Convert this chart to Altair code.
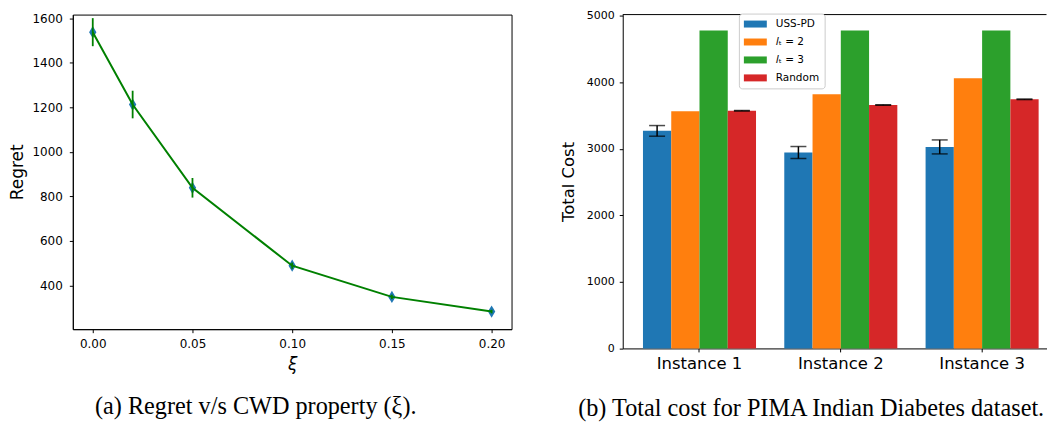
import altair as alt
import pandas as pd

# ---------------- data: left panel (Regret vs xi) ----------------
xi_values = [0.00, 0.02, 0.05, 0.10, 0.15, 0.20]
regret_mean = [1537, 1212, 838, 488, 348, 282]
regret_err = [63, 62, 44, 14, 10, 8]

# ---------------- data: right panel (Total cost) ----------------
instances = ["Instance 1", "Instance 2", "Instance 3"]
methods = ["USS-PD", "𝐼ₜ = 2", "𝐼ₜ = 3", "Random"]
cost_uss = [3268, 2943, 3027]
cost_it2 = [3561, 3818, 4060]
cost_it3 = [4775, 4775, 4775]
cost_rand = [3570, 3658, 3742]
err_uss = [80, 90, 105]
err_rand = [4, 4, 4]
colors = ["#1f77b4", "#ff7f0e", "#2ca02c", "#d62728"]

FONT = "DejaVu Sans"
CAP_FONT = "Liberation Serif"

# ---------------- left chart ----------------
df_l = pd.DataFrame({
    "xi": xi_values,
    "regret": regret_mean,
    "lo": [m - e for m, e in zip(regret_mean, regret_err)],
    "hi": [m + e for m, e in zip(regret_mean, regret_err)],
})

xl_scale = alt.Scale(domain=[-0.01, 0.21], nice=False, zero=False)
yl_scale = alt.Scale(domain=[203, 1616], nice=False, zero=False)
xs = alt.X(
    "xi:Q", scale=xl_scale,
    axis=alt.Axis(values=[0.0, 0.05, 0.10, 0.15, 0.20], format=".2f", title="ξ",
                  titleFontStyle="italic", labelFontSize=12, titleFontSize=17,
                  labelPadding=6, titlePadding=7),
)
ys = alt.Y(
    "regret:Q", scale=yl_scale,
    axis=alt.Axis(values=[400, 600, 800, 1000, 1200, 1400, 1600], format="d", title="Regret",
                  labelFontSize=12, titleFontSize=17, labelPadding=7, titlePadding=5),
)

base_l = alt.Chart(df_l)
pts = base_l.mark_point(
    shape="M0,-1L0.6,0L0,1L-0.6,0Z", filled=True, size=150, color="#1f77b4", opacity=1
).encode(x=xs, y=ys)
errs_l = base_l.mark_rule(color="green", strokeWidth=1.8).encode(
    x=xs, y=alt.Y("lo:Q", scale=yl_scale), y2="hi:Q"
)
line_l = base_l.mark_line(color="green", strokeWidth=2).encode(x=xs, y=ys)

left = alt.layer(pts, errs_l, line_l).properties(
    width=440, height=315.5,
    view=alt.ViewBackground(stroke="black", strokeWidth=1),
    title=alt.TitleParams(
        "(a) Regret v/s CWD property (ξ).", orient="bottom", anchor="middle",
        font=CAP_FONT, fontSize=24.3, fontWeight="normal", color="black", offset=23, dx=-36.5,
    ),
)

# ---------------- right chart ----------------
rows = []
for series, m in zip([cost_uss, cost_it2, cost_it3, cost_rand], methods):
    for inst, v in zip(instances, series):
        rows.append({"instance": inst, "method": m, "cost": v})
df_r = pd.DataFrame(rows)

erows = []
for series, errs, m in [(cost_uss, err_uss, methods[0]), (cost_rand, err_rand, methods[3])]:
    for inst, v, e in zip(instances, series, errs):
        erows.append({"instance": inst, "method": m, "lo": v - e, "hi": v + e})
df_e = pd.DataFrame(erows)

xr = alt.X(
    "instance:N", sort=instances,
    scale=alt.Scale(paddingInner=0.2, paddingOuter=0.0995, align=0.72),
    axis=alt.Axis(title=None, labelAngle=0, labelFontSize=16.5, labelPadding=4),
)
xo = alt.XOffset("method:N", sort=methods,
                 scale=alt.Scale(domain=methods, paddingInner=0, paddingOuter=0))
yr_scale = alt.Scale(domain=[0, 5015], nice=False, zero=True)
yr = alt.Y(
    "cost:Q", scale=yr_scale,
    axis=alt.Axis(values=[0, 1000, 2000, 3000, 4000, 5000], format="d", title="Total Cost",
                  labelFontSize=11, titleFontSize=16.5, labelPadding=5, titlePadding=9.5),
)

bars = alt.Chart(df_r).mark_bar().encode(
    x=xr, xOffset=xo, y=yr,
    color=alt.Color(
        "method:N", sort=methods,
        scale=alt.Scale(domain=methods, range=colors),
        legend=alt.Legend(
            title=None, orient="none", legendX=668, legendY=-1,
            fillColor="white", strokeColor="#cccccc", cornerRadius=3, padding=5,
            symbolType="M-2.09,-0.636L2.09,-0.636L2.09,0.636L-2.09,0.636Z", symbolSize=121,
            symbolOffset=6, symbolStrokeWidth=0, labelFont=FONT, labelFontSize=10.5,
            labelOffset=15, rowPadding=7, labelColor="black",
        ),
    ),
)

err_base = alt.Chart(df_e)
err_rule = err_base.mark_rule(color="black", strokeWidth=1.5).encode(
    x=xr, xOffset=xo, y=alt.Y("lo:Q", scale=yr_scale), y2="hi:Q"
)
err_lo = err_base.mark_tick(color="black", thickness=1.5, size=16, orient="horizontal").encode(
    x=xr, xOffset=xo, y=alt.Y("lo:Q", scale=yr_scale)
)
err_hi = err_base.mark_tick(color="black", thickness=1.5, size=16, orient="horizontal").encode(
    x=xr, xOffset=xo, y=alt.Y("hi:Q", scale=yr_scale)
)
top_line = alt.Chart(pd.DataFrame({"k": [0]})).mark_rule(color="black", strokeWidth=1).encode(
    x=alt.value(0), x2=alt.value(425), y=alt.value(0)
)

right = alt.layer(bars, err_rule, err_lo, err_hi, top_line).properties(
    width=425, height=334.8,
    view=alt.ViewBackground(stroke="transparent"),
    title=alt.TitleParams(
        "(b) Total cost for PIMA Indian Diabetes dataset.", orient="bottom", anchor="middle",
        font=CAP_FONT, fontSize=24.3, fontWeight="normal", color="black", offset=25, dx=-23.5,
    ),
)

chart = alt.hconcat(left, right, spacing=47.5).properties(
    padding={"left": 0, "top": 0, "right": 0, "bottom": 0},
    autosize=alt.AutoSizeParams(type="pad"),
    background="white",
).configure_axis(
    grid=False, domainColor="black", tickColor="black", tickSize=3.5, domainWidth=1,
    labelFont=FONT, titleFont=FONT, labelColor="black", titleColor="black",
    titleFontWeight="normal",
).configure_view(stroke="transparent")

chart.save("out.html", embed_options={"renderer": "svg", "actions": False})
